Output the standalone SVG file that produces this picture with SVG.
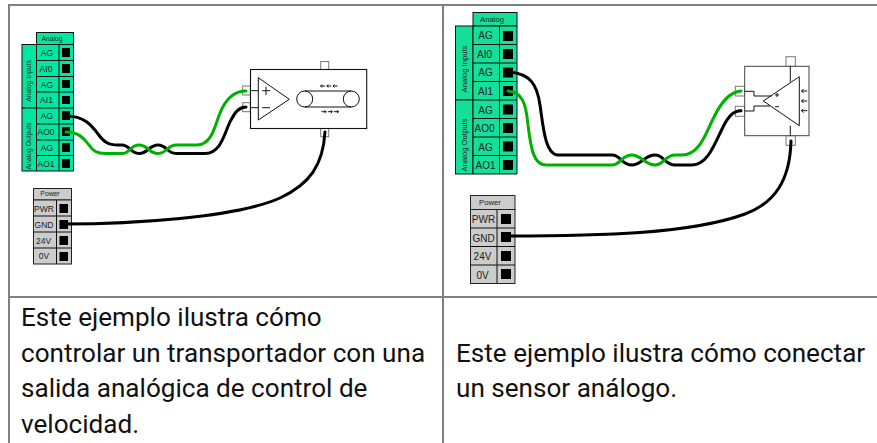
<svg xmlns="http://www.w3.org/2000/svg" width="877" height="443" viewBox="0 0 877 443">
<defs><style>
.grid{stroke:#808080;stroke-width:2;fill:none}
.t{font-family:"Liberation Sans",Arial,sans-serif;fill:#222}
.cap{font-family:Roboto,"Liberation Sans",sans-serif;font-size:26.1px;fill:#111}
.a{fill:#00e7a0;stroke:#111;stroke-width:1}
.a2{fill:#14e09a;stroke:#111;stroke-width:1}
.p{fill:#ccc;stroke:#222;stroke-width:1}
.s{fill:#000}
.w{fill:none;stroke-width:3;stroke-linecap:round}
.k{stroke:#000}.g{stroke:#00b000}
.thin{fill:none;stroke:#111;stroke-width:1}
.tab{fill:#fff;stroke:#777;stroke-width:1}
</style></defs>
<rect width="877" height="443" fill="#fff"/>
<g id="table"><path class="grid" d="M877 5H9V443M443 5V443M9 297H877"/></g>
<g id="analog-left">
<rect class="a" x="36.500" y="32.500" width="37" height="12"/>
<rect class="a" x="22" y="44.500" width="14.500" height="63.500"/>
<rect class="a" x="22" y="108" width="14.500" height="63"/>
<path class="a" d="M36.500 44.500H73.500V171H36.500Z"/>
<path class="thin" d="M59 44.500V171M36.500 60.500H73.500M36.500 76.500H73.500M36.500 92H73.500M36.500 108H73.500M36.500 124H73.500M36.500 140H73.500M36.500 155.500H73.500"/>
<g class="s"><rect x="62" y="48" width="8" height="9"/><rect x="62" y="64" width="8" height="9"/><rect x="62" y="80" width="8" height="8"/><rect x="62" y="96" width="8" height="8"/><rect x="62" y="111" width="8" height="9"/><rect x="62" y="127" width="8" height="9"/><rect x="62" y="143" width="8" height="9"/><rect x="62" y="159" width="8" height="9"/></g>
<g class="t" font-size="8.500" text-anchor="middle"><text x="47" y="56">AG</text><text x="46" y="72">AI0</text><text x="47" y="88">AG</text><text x="46.500" y="103">AI1</text><text x="47" y="119">AG</text><text x="46" y="135">AO0</text><text x="47" y="151">AG</text><text x="46" y="167">AO1</text></g>
<g class="t" font-size="6.800" text-anchor="middle"><text x="52" y="40.500">Analog</text><text transform="translate(31 81) rotate(-90)">Analog Inputs</text><text transform="translate(31 146) rotate(-90)">Analog Outputs</text></g>
</g>
<g id="power-left">
<rect class="p" x="33.500" y="188.500" width="38" height="11.500"/>
<rect class="p" x="33.500" y="200" width="38" height="64"/>
<path class="thin" d="M56.500 200V264M33.500 216H71.500M33.500 232H71.500M33.500 248H71.500"/>
<g class="s"><rect x="59.500" y="204" width="8.500" height="9"/><rect x="59.500" y="220" width="8.500" height="9"/><rect x="59.500" y="236" width="8.500" height="9"/><rect x="59.500" y="252" width="8.500" height="9"/></g>
<g class="t" font-size="8.500" text-anchor="middle"><text x="44" y="212">PWR</text><text x="44" y="228">GND</text><text x="43.500" y="244">24V</text><text x="44" y="259">0V</text></g>
<text class="t" font-size="6.800" x="50" y="196" text-anchor="middle">Power</text>
</g>
<g id="conveyor">
<rect class="tab" x="320.700" y="61.500" width="8" height="8"/><rect class="tab" x="320.700" y="128" width="8" height="8.700"/>
<rect class="tab" x="242.700" y="86" width="7.600" height="9"/><rect class="tab" x="242.700" y="102.700" width="7.600" height="9"/>
<rect x="250.500" y="69.500" width="116.200" height="59" fill="#fff" stroke="#111" stroke-width="1.100"/>
<path class="thin" d="M250.500 90.700H258.300M250.500 107.700H258.300M258.300 77.700V120L289.300 99.300ZM262.300 90.700H270M266 86.700V95M262.300 107.700H270"/>
<circle class="thin" cx="304.700" cy="99" r="8"/><circle class="thin" cx="351.300" cy="99" r="8"/>
<path class="thin" d="M304.700 91H351.300M304.700 107H351.300"/>
<path class="thin" d="M320.500 86h4.500M322 84.500L320.500 86L322 87.500M326.800 86h4.500M328.300 84.500L326.800 86L328.300 87.500M333 86h4.500M334.500 84.500L333 86L334.500 87.500M321.500 111.700h4.500M324.500 110.200L326 111.700L324.500 113.200M327.800 111.700h4.500M330.800 110.200L332.300 111.700L330.800 113.200M334 111.700h4.500M337 110.200L338.500 111.700L337 113.200"/>
</g>
<g id="analog-right">
<rect class="a2" x="473" y="12.500" width="44" height="13.500"/>
<rect class="a2" x="455.500" y="26" width="17.500" height="74"/>
<rect class="a2" x="455.500" y="100" width="17.500" height="74"/>
<path class="a2" d="M473 26H517V174H473Z"/>
<path class="thin" d="M499.500 26V174M473 44.500H517M473 63H517M473 81.500H517M473 100H517M473 118.500H517M473 137H517M473 155.500H517"/>
<g class="s"><rect x="503" y="31" width="10" height="10"/><rect x="503" y="49" width="10" height="10"/><rect x="503" y="67.500" width="10" height="10"/><rect x="503" y="86" width="10" height="10"/><rect x="503" y="104.500" width="10" height="10"/><rect x="503" y="123" width="10" height="10"/><rect x="503" y="141.500" width="10" height="10"/><rect x="503" y="160" width="10" height="10"/></g>
<g class="t" font-size="10" text-anchor="middle"><text x="485.500" y="39">AG</text><text x="484.500" y="58">AI0</text><text x="485.500" y="76">AG</text><text x="485.500" y="95">AI1</text><text x="485.500" y="113.500">AG</text><text x="484.500" y="132">AO0</text><text x="485.500" y="150.500">AG</text><text x="485.500" y="169">AO1</text></g>
<g class="t" font-size="7.700" text-anchor="middle"><text x="492" y="22">Analog</text><text transform="translate(467 69) rotate(-90)">Analog Inputs</text><text transform="translate(467 145) rotate(-90)">Analog Outputs</text></g>
</g>
<g id="power-right">
<rect class="p" x="470.500" y="195.500" width="44.500" height="14"/>
<rect class="p" x="470.500" y="209.500" width="44.500" height="74"/>
<path class="thin" d="M497 209.500V283.500M470.500 228H515M470.500 246.500H515M470.500 265H515"/>
<g class="s"><rect x="501" y="214" width="10" height="10"/><rect x="501" y="232" width="10" height="10"/><rect x="501" y="251" width="10" height="10"/><rect x="501" y="269" width="10" height="10"/></g>
<g class="t" font-size="10" text-anchor="middle"><text x="483.500" y="223">PWR</text><text x="483.500" y="242">GND</text><text x="482.500" y="260">24V</text><text x="482.500" y="279">0V</text></g>
<text class="t" font-size="7.700" x="490" y="205" text-anchor="middle">Power</text>
</g>
<g id="sensor">
<rect class="tab" x="786" y="56.700" width="9.300" height="9.700"/><rect class="tab" x="786" y="135.700" width="9.300" height="9.600"/>
<rect class="tab" x="735.300" y="86.300" width="9.400" height="9.700"/><rect class="tab" x="735.300" y="106.300" width="9.400" height="10"/>
<rect x="744.700" y="66.300" width="64.300" height="69.400" fill="#fff" stroke="#444" stroke-width="1"/>
<path class="thin" d="M790.300 66.300V81.700M790.300 125.700V135.700M799.300 76.700V125.700L763.300 101ZM744.700 91.300H754V96H771.700M744.700 111H754V106H770M775 95H779M777 93V97M775 106.700H779"/>
<path class="thin" d="M807.300 91H801.500M803.500 89L801.500 91L803.500 93M807.300 101H801.500M803.500 99L801.500 101L803.500 103M807.300 110.700H801.500M803.500 108.700L801.500 110.700L803.500 112.700"/>
</g>
<g id="connectors">
<g class="w k"><path d="M66 116C85 116 92 126 98 134C104 142 108 145 118 145H122C130 145 130 153.500 139 153.500C148 153.500 149 145 158 145C167 145 167 153.500 176 153.500H205C222 153.500 225 130 231 120C235 112 239 107 246 107"/><path d="M64 224C130 224 235 218 280 198C310 184 323 165 325 132"/></g>
<g class="w g"><path d="M66 132C78 132 84 138 89 145C93 151 97 153.500 105 153.500H122C130 153.500 130 145 139 145C148 145 149 153.500 158 153.500C167 153.500 167 145 176 145H197C212 145 215 125 220 113C226 98 234 91 246 91"/></g>
<g class="w k"><path d="M510 72C530 74 537 84 540 105C543 125 545 155 558 155H612C621 155 621 165 632 165C641 165 645 155 655 155C664 155 665 165 675 165H692C708 165 715 143 724 125C729 116 733 111 741 110.700"/><path d="M506 236C600 236 690 234 745 214C775 203 790 180 791 141"/></g>
<g class="w g"><path d="M508 91C522 92 526 103 528 125C531 150 534 165 546 165H612C621 165 621 155 632 155C641 155 645 165 655 165C664 165 665 155 675 155H682C700 155 706 132 714 117C721 103 729 92 741 91"/></g>
</g>
<g id="captions" class="cap">
<text x="21" y="326">Este ejemplo ilustra cómo</text><text x="21" y="362">controlar un transportador con una</text><text x="21" y="397">salida analógica de control de</text><text x="21" y="433">velocidad.</text>
<text x="456" y="362">Este ejemplo ilustra cómo conectar</text><text x="456" y="397">un sensor análogo.</text>
</g>
</svg>
